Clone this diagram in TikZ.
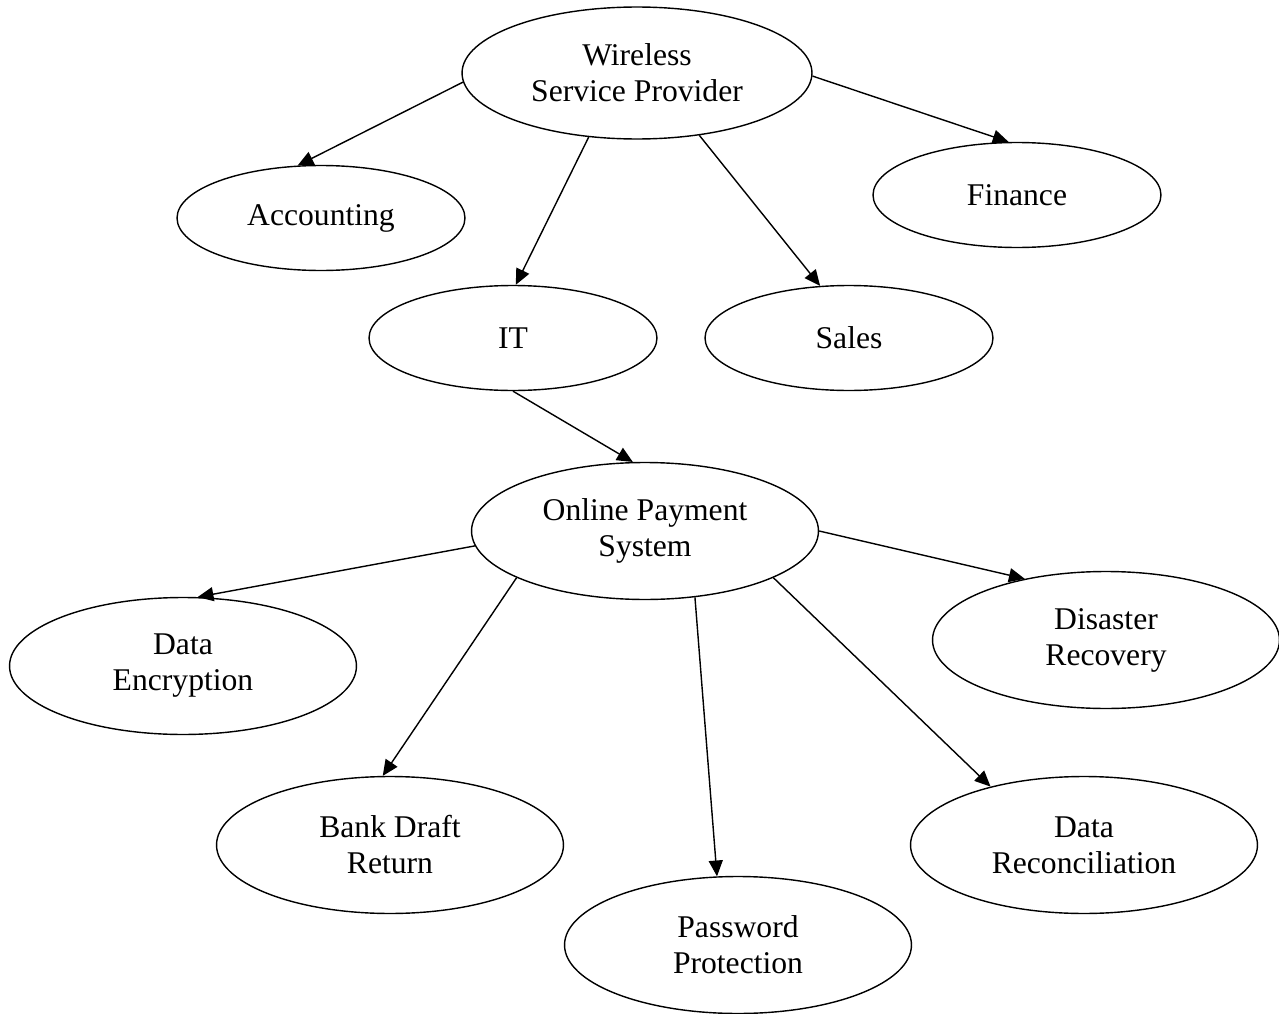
\documentclass[tikz,border=0pt]{standalone}
\usepackage{fontspec}
\setmainfont{Liberation Serif}
\usetikzlibrary{arrows.meta,shapes.geometric}

\begin{document}
\begin{tikzpicture}[
      x=0.02cm, y=-0.02cm,
      unit/.style   = {draw, ellipse, line width=0.8pt, inner sep=1pt, align=center,
                       font=\fontsize{18}{20.5}\selectfont},
      small/.style  = {unit, minimum width=5.76cm, minimum height=2.1cm},
      large/.style  = {unit, minimum width=6.94cm, minimum height=2.74cm},
      arr/.style    = {-{Triangle[length=9pt, width=8pt]}, line width=0.8pt},
    ]
    \useasboundingbox (0,0) rectangle (1279,1014);

    % top level
    \node[unit, minimum width=7cm, minimum height=2.64cm] (wsp) at (637,73) {Wireless\\Service Provider};
    \node[small] (acc)  at (321,218)  {Accounting};
    \node[small] (fin)  at (1017,195) {Finance};
    \node[small] (it)   at (513,338)  {IT};
    \node[small] (sal)  at (849,338)  {Sales};

    % payment system
    \node[large] (ops)  at (645,531)  {Online Payment\\System};
    \node[large] (enc)  at (183,666)  {Data\\Encryption};
    \node[large] (dis)  at (1106,640) {Disaster\\Recovery};
    \node[large] (bank) at (390,845)  {Bank Draft\\Return};
    \node[large] (rec)  at (1084,845) {Data\\Reconciliation};
    \node[large] (pwd)  at (738,945)  {Password\\Protection};

    \draw[arr] (wsp.183)   -- (acc.114);
    \draw[arr] (wsp.233)   -- (it.87);
    \draw[arr] (wsp.315)   -- (sal.119);
    \draw[arr] (wsp.359)   -- (fin.99);
    \draw[arr] (it.270)    -- (ops.100);
    \draw[arr] (ops.185)   -- (enc.78);
    \draw[arr] (ops.200)   -- (bank.96);
    \draw[arr] (ops.307)   -- (pwd.107);
    \draw[arr] (ops.340)   -- (rec.148);
    \draw[arr] (ops.0)     -- (dis.143);
  \end{tikzpicture}
\end{document}
